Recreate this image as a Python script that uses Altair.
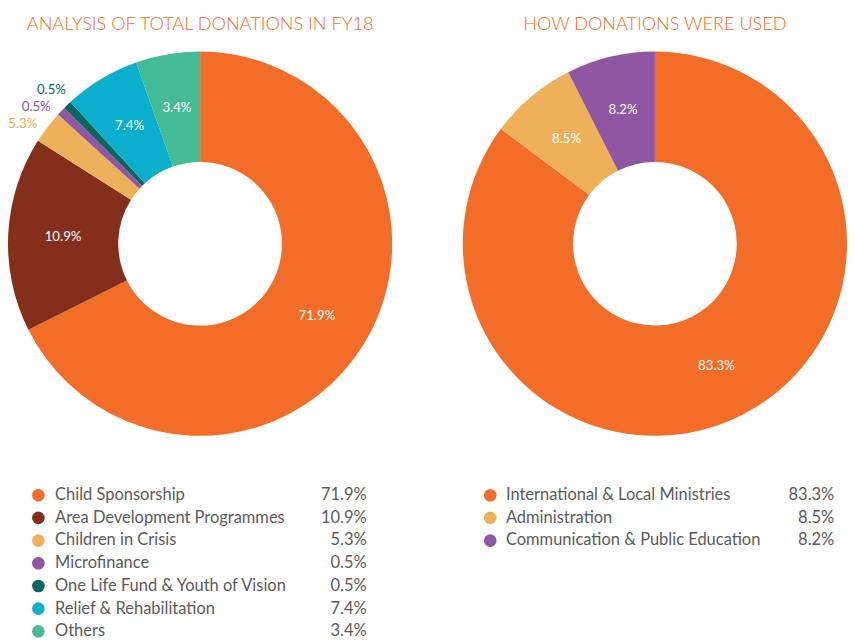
import math
import altair as alt
import pandas as pd

# ---------------- data ----------------
# Left donut: "Analysis of total donations in FY18"
cats_l = ["Child Sponsorship", "Area Development Programmes", "Children in Crisis",
          "Microfinance", "One Life Fund & Youth of Vision", "Relief & Rehabilitation", "Others"]
printed_l = [71.9, 10.9, 5.3, 0.5, 0.5, 7.4, 3.4]          # percentages printed on the chart
drawn_l = [67.6, 16.4, 2.75, 0.75, 0.7, 6.4, 5.4]          # slice shares as actually drawn in the picture
colors_l = ["#F26D28", "#832F1B", "#EDB15A", "#8F56A2", "#0C6460", "#0BAECB", "#44BB94"]

# Right donut: "How donations were used"
cats_r = ["International & Local Ministries", "Administration", "Communication & Public Education"]
printed_r = [83.3, 8.5, 8.2]
drawn_r = [85.2, 7.35, 7.45]
colors_r = ["#F26D28", "#EDB15A", "#8F56A2"]

title_l = "ANALYSIS OF TOTAL DONATIONS IN FY18"
title_r = "HOW DONATIONS WERE USED"

FONT = "Lato"
TITLE_COLOR = "#F26D28"
TEXT_COLOR = "#5B5B5B"


def build_table(cats, printed, drawn):
    total = sum(drawn)
    rows = []
    start = 0.0
    for i, (c, p, d) in enumerate(zip(cats, printed, drawn)):
        rows.append({"idx": i, "cat": c, "share": d, "label": f"{p:.1f}%",
                     "start": start, "mid": start + d / 2, "inside": d >= 3})
        start += d
    # fan the labels of tiny slices evenly around their cluster, outside the ring
    small = [r for r in rows if not r["inside"]]
    if small:
        centre = sum(r["start"] for r in small) / len(small)
        gap = total * 6 / 360
        for k, r in enumerate(small):
            r["mid"] = centre + (k - (len(small) - 1) / 2) * gap
    return pd.DataFrame(rows), total


def donut(cats, printed, drawn, colors, title, w, h):
    df, total = build_table(cats, printed, drawn)
    theta_scale = alt.Scale(domain=[0, total], range=[0, 2 * math.pi])
    color = alt.Color("cat:N", scale=alt.Scale(domain=cats, range=colors), legend=None)
    base = alt.Chart(df)
    arcs = base.mark_arc(innerRadius=83.5, outerRadius=196).encode(
        theta=alt.Theta("share:Q", stack=True, scale=theta_scale),
        order=alt.Order("idx:Q", sort="ascending"),
        color=color,
    )
    inside = base.transform_filter("datum.inside").mark_text(
        radius=140, font=FONT, fontSize=13.5, color="white", baseline="middle", align="center"
    ).encode(theta=alt.Theta("mid:Q", stack=None, scale=theta_scale), text="label:N")
    outside = base.transform_filter("!datum.inside").mark_text(
        radius=218, font=FONT, fontSize=13.5, baseline="middle", align="center"
    ).encode(theta=alt.Theta("mid:Q", stack=None, scale=theta_scale), text="label:N", color=color)
    return alt.layer(arcs, inside, outside).properties(
        width=w, height=h,
        title=alt.Title(title, color=TITLE_COLOR, font=FONT, fontSize=18.5, fontWeight=300,
                        anchor="middle", baseline="alphabetic", offset=4),
    )


def legend(cats, printed, colors, w, step, x_dot, x_text, x_val):
    df = pd.DataFrame({"cat": cats, "label": [f"{p:.1f}%" for p in printed]})
    y = alt.Y("cat:N", sort=cats, axis=None, scale=alt.Scale(domain=cats))
    base = alt.Chart(df)
    dots = base.mark_circle(size=165, opacity=1).encode(
        y=y, x=alt.value(x_dot),
        color=alt.Color("cat:N", scale=alt.Scale(domain=cats, range=colors), legend=None))
    names = base.mark_text(align="left", baseline="middle", font=FONT, fontSize=16.8,
                           color=TEXT_COLOR).encode(y=y, x=alt.value(x_text), text="cat:N")
    vals = base.mark_text(align="right", baseline="middle", font=FONT, fontSize=16.8,
                          color=TEXT_COLOR).encode(y=y, x=alt.value(x_val), text="label:N")
    return alt.layer(dots, names, vals).properties(width=w, height=step * len(cats))


STEP = 23.15
left = alt.vconcat(
    donut(cats_l, printed_l, drawn_l, colors_l, title_l, 392, 392),
    legend(cats_l, printed_l, colors_l, 392, STEP, 31, 48, 366),
    spacing=49,
)
right = alt.vconcat(
    donut(cats_r, printed_r, drawn_r, colors_r, title_r, 392, 392),
    legend(cats_r, printed_r, colors_r, 392, STEP, 28, 44, 379),
    spacing=49,
)

chart = alt.hconcat(left, right, spacing=72, padding=0).resolve_scale(
    color="independent"
).configure(font=FONT, view=alt.ViewConfig(stroke=None))

chart.save("out.html", embed_options={"renderer": "svg", "actions": False})
